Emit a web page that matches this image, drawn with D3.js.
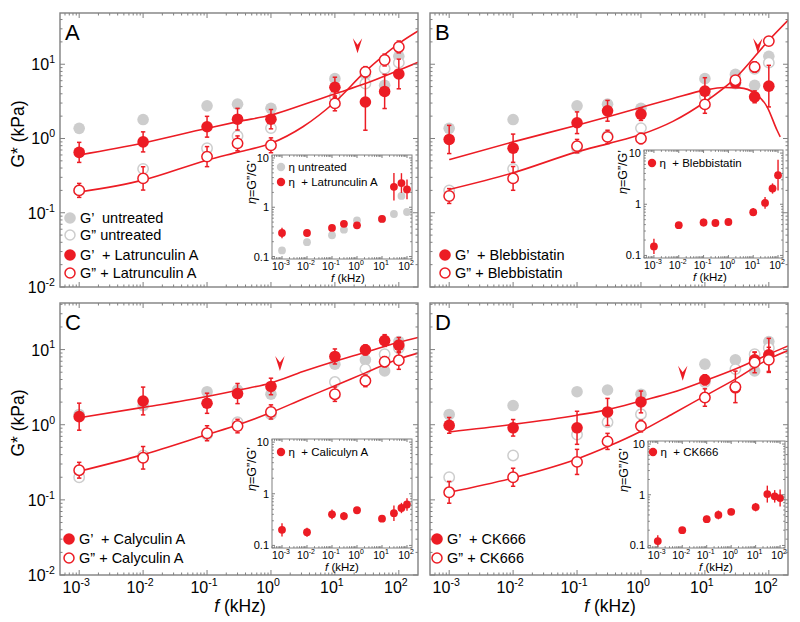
<!DOCTYPE html>
<html><head><meta charset="utf-8">
<script src="https://cdn.jsdelivr.net/npm/d3@7/dist/d3.min.js"></script>
<style>
html,body{margin:0;padding:0;background:#fff;}
svg{display:block;font-family:"Liberation Sans",Arial,Helvetica,sans-serif;}
text{white-space:pre;}
</style></head><body>
<svg id="chart" width="800" height="622"></svg>
<script>
// ---------------- data ----------------
const freqs = [0.001, 0.01, 0.1, 0.3, 1, 10, 30, 60, 100];           // kHz
const untreatedGp  = [1.37, 1.8, 2.75, 2.9, 2.55, 6.4, 7.3, 5.2, 12.8];
const untreatedGpp = [0.2, 0.39, 0.74, 1.08, 1.38, 3.7, 5.5, 8.7, 10.5];
const untreatedEta = [0.133, 0.196, 0.27, 0.35, 0.54, 0.58, 0.73, 1.7, 0.8];

// A: Latrunculin A
const latGp     = [0.65, 0.90, 1.44, 1.82, 1.82, 4.9, 3.1, 4.3, 7.4];
const latGpErr  = [0.135, 0.135, 0.14, 0.146, 0.13, 0.135, 0.38, 0.23, 0.2];
const latGpp    = [0.20, 0.29, 0.57, 0.86, 0.81, 2.97, 7.9, 11.4, 17.1];
const latGppErr = [0.094, 0.157, 0.135, 0.1, 0.1, 0.1, 0.07, 0.08, 0.08];
const latEta    = [0.30, 0.30, 0.38, 0.46, 0.43, 0.58, 2.6, 3.1, 2.3];
const latEtaErr = [0.107, 0.04, 0.04, 0.04, 0.03, 0.03, 0.28, 0.2, 0.2];

// B: Blebbistatin
const blebGp     = [0.97, 0.74, 1.63, 2.36, 2.13, 4.35, 5.7, 3.64, 5.07];
const blebGpErr  = [0.19, 0.19, 0.146, 0.14, 0.085, 0.18, 0.05, 0.08, 0.28];
const blebGpp    = [0.168, 0.29, 0.79, 1.05, 1.0, 2.88, 6.1, 9.2, 20.5];
const blebGppErr = [0.1, 0.16, 0.09, 0.09, 0.07, 0.12, 0.05, 0.07, 0.05];
const blebEta    = [0.15, 0.39, 0.44, 0.43, 0.45, 0.7, 1.06, 2.03, 3.7];
const blebEtaErr = [0.15, 0.03, 0.075, 0.04, 0.03, 0.08, 0.115, 0.1, 0.3];

// C: Calyculin A
const calGp     = [1.28, 2.07, 1.93, 2.6, 3.23, 8.1, 9.9, 13.2, 11.5];
const calGpErr  = [0.18, 0.185, 0.134, 0.134, 0.11, 0.1, 0.067, 0.078, 0.1];
const calGpp    = [0.248, 0.363, 0.77, 0.96, 1.48, 2.55, 3.84, 6.9, 7.2];
const calGppErr = [0.105, 0.15, 0.1, 0.09, 0.094, 0.096, 0.078, 0.067, 0.12];
const calEta    = [0.2, 0.18, 0.4, 0.37, 0.48, 0.33, 0.42, 0.53, 0.62];
const calEtaErr = [0.13, 0.086, 0.095, 0.08, 0.04, 0.05, 0.15, 0.1, 0.12];

// D: CK666
const ckGp     = [0.98, 0.91, 0.91, 1.48, 2.01, 3.96, 3.1, 7.3, 8.5];
const ckGpErr  = [0.105, 0.11, 0.22, 0.18, 0.145, 0.067, 0.05, 0.1, 0.22];
const ckGpp    = [0.126, 0.2, 0.32, 0.6, 0.96, 2.3, 3.19, 6.76, 7.3];
const ckGppErr = [0.145, 0.12, 0.167, 0.107, 0.078, 0.116, 0.21, 0.138, 0.167];
const ckEta    = [0.122, 0.2, 0.33, 0.4, 0.46, 0.57, 1.03, 0.93, 0.86];
const ckEtaErr = [0.117, 0.03, 0.067, 0.087, 0.04, 0.083, 0.167, 0.123, 0.167];

// fitted model curves
const fitFreq = [0.001, 0.01, 0.1, 0.316, 1, 3.16, 10, 30, 100, 200];
const fitAGp  = [0.6, 0.87, 1.37, 1.7, 2.07, 2.85, 4.0, 5.5, 8.3, 10.6];
const fitAGpp = [0.19, 0.275, 0.51, 0.66, 0.86, 1.44, 3.1, 8.0, 19, 28];
const fitBGpFreq = [0.001, 0.01, 0.1, 0.316, 1, 3.16, 10, 20, 35, 61, 94, 134, 151];
const fitBGp  = [0.52, 0.9, 1.51, 1.98, 2.62, 3.45, 4.48, 4.85, 4.8, 4.05, 2.67, 1.3, 1.05];
const fitBGpp = [0.206, 0.345, 0.66, 0.86, 1.13, 1.7, 3.1, 6.5, 21, 39];
const fitCGp  = [1.24, 1.7, 2.38, 2.9, 3.6, 5.1, 7.0, 9.2, 12.5, 14.5];
const fitCGpp = [0.24, 0.4, 0.74, 1.01, 1.45, 2.2, 3.3, 4.9, 7.5, 9.0];
const fitDGp  = [0.8, 1.01, 1.34, 1.6, 2.07, 2.7, 3.84, 5.5, 8.7, 11.2];
const fitDGpp = [0.126, 0.196, 0.35, 0.52, 0.82, 1.4, 2.42, 4.05, 7.5, 9.7];

// arrow markers [frequency kHz, G* at tip kPa]
const arrowA = [22.6, 14.1];
const arrowB = [67.3, 14.1];
const arrowC = [1.38, 5.2];
const arrowD = [4.5, 3.84];

const mainYTickExp = [1, 0, -1, -2];
const mainXTickExp = [-3, -2, -1, 0, 1, 2];
const insetYTicks = [{v:10, t:"10"}, {v:1, t:"1"}, {v:0.1, t:"0.1"}];
const insetXTickExp = [-3, -2, -1, 0, 1, 2];

// ---------------- drawing ----------------
const RED = "#ec1c24", GRAY = "#cdcdcd", FRAME = "#808080";
const svg = d3.select("#chart");

const panels = [
  {letter:"A", box:[60,13,418,287], ylog:[-2,1.69], gp:latGp, gpErr:latGpErr, gpp:latGpp, gppErr:latGppErr,
   eta:latEta, etaErr:latEtaErr, fitGpF:fitFreq, fitGp:fitAGp, fitGpp:fitAGpp, arrow:arrowA,
   treat:"Latrunculin A", showUntreated:true, legendX:70, legendY:[218,235,255,273],
   yTicks:true, xTicks:false,
   inset:{box:[272,155,412,259], ylab:[256,182], flabX:348, legX:281, legY:[167,182], etaTreat:"Latrunculin A"}},
  {letter:"B", box:[430,13,788,287], ylog:[-2,1.69], gp:blebGp, gpErr:blebGpErr, gpp:blebGpp, gppErr:blebGppErr,
   eta:blebEta, etaErr:blebEtaErr, fitGpF:fitBGpFreq, fitGp:fitBGp, fitGpp:fitBGpp, arrow:arrowB,
   treat:"Blebbistatin", showUntreated:false, legendX:445, legendY:[255,273],
   yTicks:false, xTicks:false,
   inset:{box:[644,150,783,258], ylab:[627,172], flabX:710, legX:652, legY:[163], etaTreat:"Blebbistatin"}},
  {letter:"C", box:[60,303,418,575], ylog:[-2,1.62], gp:calGp, gpErr:calGpErr, gpp:calGpp, gppErr:calGppErr,
   eta:calEta, etaErr:calEtaErr, fitGpF:fitFreq, fitGp:fitCGp, fitGpp:fitCGpp, arrow:arrowC,
   treat:"Calyculin A", showUntreated:false, legendX:69, legendY:[539,558],
   yTicks:true, xTicks:true,
   inset:{box:[272,439,412,548], ylab:[256,469], flabX:342, legX:281, legY:[452], etaTreat:"Caliculyn A"}},
  {letter:"D", box:[430,303,788,575], ylog:[-2,1.62], gp:ckGp, gpErr:ckGpErr, gpp:ckGpp, gppErr:ckGppErr,
   eta:ckEta, etaErr:ckEtaErr, fitGpF:fitFreq, fitGp:fitDGp, fitGpp:fitDGpp, arrow:arrowD,
   treat:"CK666", showUntreated:false, legendX:437, legendY:[539,558],
   yTicks:false, xTicks:true,
   inset:{box:[648,441,785,548], ylab:[628,470], flabX:716, legX:653, legY:[452], etaTreat:"CK666"}}
];

function logTicks(l0, l1) {
  const major = [], minor = [];
  for (let k = Math.floor(l0); k <= Math.ceil(l1); k++) {
    if (k >= l0 - 1e-9 && k <= l1 + 1e-9) major.push(Math.pow(10, k));
    for (let m = 2; m < 10; m++) {
      const l = k + Math.log10(m);
      if (l > l0 && l < l1) minor.push(Math.pow(10, l));
    }
  }
  return {major, minor};
}

function frameWithTicks(g, x, y, box, xl, yl, majLen, minLen, sw) {
  const [x0, y0, x1, y1] = box;
  const xt = logTicks(xl[0], xl[1]), yt = logTicks(yl[0], yl[1]);
  const tk = g.append("g").attr("stroke", FRAME).attr("stroke-width", 1);
  xt.major.forEach(v => { const px = x(v);
    tk.append("line").attr("x1", px).attr("x2", px).attr("y1", y1).attr("y2", y1 - majLen);
    tk.append("line").attr("x1", px).attr("x2", px).attr("y1", y0).attr("y2", y0 + majLen); });
  xt.minor.forEach(v => { const px = x(v);
    tk.append("line").attr("x1", px).attr("x2", px).attr("y1", y1).attr("y2", y1 - minLen);
    tk.append("line").attr("x1", px).attr("x2", px).attr("y1", y0).attr("y2", y0 + minLen); });
  yt.major.forEach(v => { const py = y(v);
    tk.append("line").attr("y1", py).attr("y2", py).attr("x1", x0).attr("x2", x0 + majLen);
    tk.append("line").attr("y1", py).attr("y2", py).attr("x1", x1).attr("x2", x1 - majLen); });
  yt.minor.forEach(v => { const py = y(v);
    tk.append("line").attr("y1", py).attr("y2", py).attr("x1", x0).attr("x2", x0 + minLen);
    tk.append("line").attr("y1", py).attr("y2", py).attr("x1", x1).attr("x2", x1 - minLen); });
  g.append("rect").attr("x", x0).attr("y", y0).attr("width", x1 - x0).attr("height", y1 - y0)
    .attr("fill", "none").attr("stroke", FRAME).attr("stroke-width", sw);
}

function powLabel(sel, exp, fs) {
  sel.append("tspan").text("10");
  sel.append("tspan").attr("dy", -fs * 0.45).attr("font-size", fs * 0.66).text(String(exp));
}

function errorBars(g, xs, ys, vals, errs, color, cap, sw) {
  vals.forEach((v, i) => {
    const e = errs[i], px = xs(freqs[i]);
    const ya = ys(v * Math.pow(10, e)), yb = ys(v / Math.pow(10, e));
    g.append("line").attr("x1", px).attr("x2", px).attr("y1", ya).attr("y2", yb)
      .attr("stroke", color).attr("stroke-width", sw);
    if (cap > 0) [ya, yb].forEach(yy => g.append("line").attr("x1", px - cap).attr("x2", px + cap)
      .attr("y1", yy).attr("y2", yy).attr("stroke", color).attr("stroke-width", sw));
  });
}

panels.forEach((P, pi) => {
  const [x0, y0, x1, y1] = P.box;
  const g = svg.append("g");
  const x = d3.scaleLog().domain([Math.pow(10, -3.3), Math.pow(10, 2.3)]).range([x0, x1]);
  const y = d3.scaleLog().domain([Math.pow(10, P.ylog[0]), Math.pow(10, P.ylog[1])]).range([y1, y0]);
  const clipId = "clip" + pi;
  g.append("clipPath").attr("id", clipId).append("rect")
    .attr("x", x0).attr("y", y0).attr("width", x1 - x0).attr("height", y1 - y0);
  const plot = g.append("g").attr("clip-path", `url(#${clipId})`);

  // untreated (gray)
  plot.selectAll(".ug").data(untreatedGp).join("circle")
    .attr("cx", (d, i) => x(freqs[i])).attr("cy", d => y(d)).attr("r", 5.8).attr("fill", GRAY);
  plot.selectAll(".ugg").data(untreatedGpp).join("circle")
    .attr("cx", (d, i) => x(freqs[i])).attr("cy", d => y(d)).attr("r", 5.2).attr("fill", "#fff")
    .attr("stroke", GRAY).attr("stroke-width", 1.5);

  // fit curves
  const line = d3.line().curve(d3.curveMonotoneX);
  plot.append("path").attr("d", line(P.fitGp.map((v, i) => [x(P.fitGpF[i]), y(v)])))
    .attr("fill", "none").attr("stroke", RED).attr("stroke-width", 1.6);
  plot.append("path").attr("d", line(P.fitGpp.map((v, i) => [x(fitFreq[i]), y(v)])))
    .attr("fill", "none").attr("stroke", RED).attr("stroke-width", 1.6);

  // treated data
  errorBars(plot, x, y, P.gp, P.gpErr, RED, 2.2, 1.5);
  errorBars(plot, x, y, P.gpp, P.gppErr, RED, 2.2, 1.5);
  plot.selectAll(".tg").data(P.gp).join("circle")
    .attr("cx", (d, i) => x(freqs[i])).attr("cy", d => y(d)).attr("r", 5.8).attr("fill", RED);
  plot.selectAll(".tgg").data(P.gpp).join("circle")
    .attr("cx", (d, i) => x(freqs[i])).attr("cy", d => y(d)).attr("r", 5.2).attr("fill", "#fff")
    .attr("stroke", RED).attr("stroke-width", 1.5);

  // arrow
  g.append("path").attr("d", "M0,0 L-4.7,-15 L0,-8.5 L4.7,-15 Z").attr("fill", RED)
    .attr("transform", `translate(${x(P.arrow[0])},${y(P.arrow[1])})`);

  frameWithTicks(g, x, y, P.box, [-3.3, 2.3], P.ylog, 5, 2.5, 1.4);

  // panel letter
  g.append("text").attr("x", x0 + 5).attr("y", y0 + 27).attr("font-size", 22).text(P.letter);

  // axis tick labels
  if (P.yTicks) {
    mainYTickExp.forEach(e => {
      const t = g.append("text").attr("x", x0 - 5).attr("y", y(Math.pow(10, e)) + 6)
        .attr("text-anchor", "end").attr("font-size", 16);
      powLabel(t, e, 16);
    });
    g.append("text").attr("transform", `translate(${x0 - 36},${(y0 + y1) / 2 - 16}) rotate(-90)`)
      .attr("text-anchor", "middle").attr("font-size", 17.5).text("G* (kPa)");
  }
  if (P.xTicks) {
    mainXTickExp.forEach(e => {
      const t = g.append("text").attr("x", x(Math.pow(10, e)) - 3).attr("y", y1 + 18)
        .attr("text-anchor", "middle").attr("font-size", 16);
      powLabel(t, e, 16);
    });
    const t = g.append("text").attr("x", (x0 + x1) / 2 + 1).attr("y", y1 + 37)
      .attr("text-anchor", "middle").attr("font-size", 17.5);
    t.append("tspan").attr("font-style", "italic").text("f");
    t.append("tspan").text(" (kHz)");
  }

  // legend
  const legItems = [];
  if (P.showUntreated) {
    legItems.push({fill: GRAY, stroke: null, label: "G\u2019  untreated"});
    legItems.push({fill: "#fff", stroke: GRAY, label: "G\u201D untreated"});
  }
  legItems.push({fill: RED, stroke: null, label: "G\u2019  + " + P.treat});
  legItems.push({fill: "#fff", stroke: RED, label: "G\u201D + " + P.treat});
  legItems.forEach((it, i) => {
    const ly = P.legendY[i];
    const c = g.append("circle").attr("cx", P.legendX).attr("cy", ly).attr("r", it.stroke ? 5 : 5.8)
      .attr("fill", it.fill);
    if (it.stroke) c.attr("stroke", it.stroke).attr("stroke-width", 1.5);
    g.append("text").attr("x", P.legendX + 10).attr("y", ly + 5.2).attr("font-size", 14.5).text(it.label);
  });

  // ---------- inset ----------
  const I = P.inset;
  const [ix0, iy0, ix1, iy1] = I.box;
  const ig = svg.append("g");
  const ix = d3.scaleLog().domain([Math.pow(10, -3.4), Math.pow(10, 2.2)]).range([ix0, ix1]);
  const iy = d3.scaleLog().domain([Math.pow(10, -1.05), Math.pow(10, 1.06)]).range([iy1, iy0]);
  ig.append("rect").attr("x", ix0).attr("y", iy0).attr("width", ix1 - ix0).attr("height", iy1 - iy0)
    .attr("fill", "#fff");
  if (P.showUntreated) {
    ig.selectAll(".ue").data(untreatedEta).join("circle")
      .attr("cx", (d, i) => ix(freqs[i])).attr("cy", d => iy(d)).attr("r", 3.9).attr("fill", GRAY);
  }
  errorBars(ig, ix, iy, P.eta, P.etaErr, RED, 0, 1.4);
  ig.selectAll(".te").data(P.eta).join("circle")
    .attr("cx", (d, i) => ix(freqs[i])).attr("cy", d => iy(d)).attr("r", 3.9).attr("fill", RED);
  frameWithTicks(ig, ix, iy, I.box, [-3.4, 2.2], [-1.05, 1.06], 3, 1.8, 1);

  insetYTicks.forEach(tk => {
    ig.append("text").attr("x", ix0 - 3).attr("y", iy(tk.v) + 4).attr("text-anchor", "end")
      .attr("font-size", 11).text(tk.t);
  });
  insetXTickExp.forEach(e => {
    const t = ig.append("text").attr("x", ix(Math.pow(10, e)) - 1).attr("y", iy1 + 10.5)
      .attr("text-anchor", "middle").attr("font-size", 10.5);
    powLabel(t, e, 10.5);
  });
  const fl = ig.append("text").attr("x", I.flabX).attr("y", iy1 + 22.5).attr("text-anchor", "middle")
    .attr("font-size", 11.5);
  fl.append("tspan").attr("font-style", "italic").text("f");
  fl.append("tspan").text(" (kHz)");
  const yl = ig.append("text").attr("transform", `translate(${I.ylab[0]},${I.ylab[1]}) rotate(-90)`)
    .attr("text-anchor", "middle").attr("font-size", 12.5);
  yl.append("tspan").attr("font-style", "italic").text("\u03B7");
  yl.append("tspan").text("=G\u201D/G\u2019");

  const iLeg = [];
  if (P.showUntreated) iLeg.push({c: GRAY, t: "\u03B7 untreated"});
  iLeg.push({c: RED, t: "\u03B7  + " + I.etaTreat});
  iLeg.forEach((it, i) => {
    const ly = I.legY[i];
    ig.append("circle").attr("cx", I.legX).attr("cy", ly).attr("r", 4.2).attr("fill", it.c);
    ig.append("text").attr("x", I.legX + 7.5).attr("y", ly + 4.2).attr("font-size", 11.5).text(it.t);
  });
});
</script>
</body></html>
